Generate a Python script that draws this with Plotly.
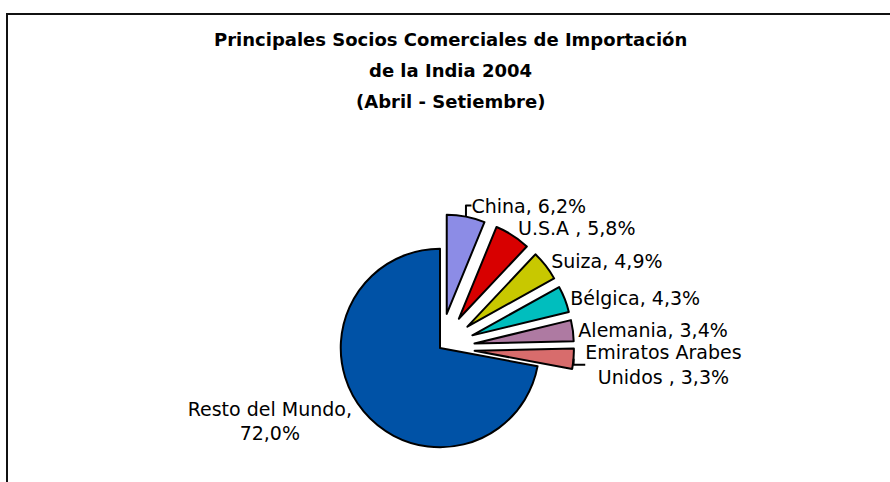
import plotly.graph_objects as go

# ---- data ----
labels = ["China", "U.S.A ", "Suiza", "Bélgica", "Alemania",
          "Emiratos Arabes<br>Unidos ", "Resto del Mundo"]
values = [6.2, 5.8, 4.9, 4.3, 3.4, 3.3, 72.0]
pulls = [0.35, 0.35, 0.35, 0.35, 0.35, 0.35, 0.0]
colors = ["#8C8CE6", "#D80000", "#C8C800", "#00BEBE", "#AE7AA2",
          "#D86C6C", "#0052A6"]
title_lines = ["Principales Socios Comerciales de Importación",
               "de la India 2004",
               "(Abril - Setiembre)"]

W, H = 890, 482
templates = ["%{label}, %{value:.1f}%"] * 6 + ["%{label},<br>%{value:.1f}%"]

fig = go.Figure(go.Pie(
    labels=labels,
    values=values,
    pull=pulls,
    sort=False,
    direction="clockwise",
    rotation=0,
    texttemplate=templates,
    textposition="outside",
    textfont=dict(family="DejaVu Sans", size=19, color="#000000"),
    marker=dict(colors=colors, line=dict(color="#000000", width=2)),
    showlegend=False,
    automargin=False,
    hoverinfo="label+percent",
    domain=dict(x=[306 / W, 574 / W], y=[0.0, 268 / H]),
))

title_y = [39, 70, 101]
for txt, ty in zip(title_lines, title_y):
    fig.add_annotation(
        text="<b>" + txt + "</b>", xref="paper", yref="paper",
        x=450 / W, y=1 - ty / H, xanchor="center", yanchor="middle",
        showarrow=False,
        font=dict(family="DejaVu Sans", size=18, color="#000000"),
    )

# chart frame
fig.add_shape(type="rect", xref="paper", yref="paper",
              x0=7 / W, x1=1.02, y0=-0.02, y1=1 - 14 / H,
              line=dict(color="#111111", width=2), fillcolor="rgba(0,0,0,0)")

fig.update_layout(
    width=W, height=H,
    margin=dict(l=0, r=0, t=0, b=0, autoexpand=False),
    paper_bgcolor="#FFFFFF",
    plot_bgcolor="#FFFFFF",
    separators=",.",
    font=dict(family="DejaVu Sans", color="#000000"),
)

fig.write_html("out.html", config={"displayModeBar": False},
               post_script="document.body.style.margin='0';")
